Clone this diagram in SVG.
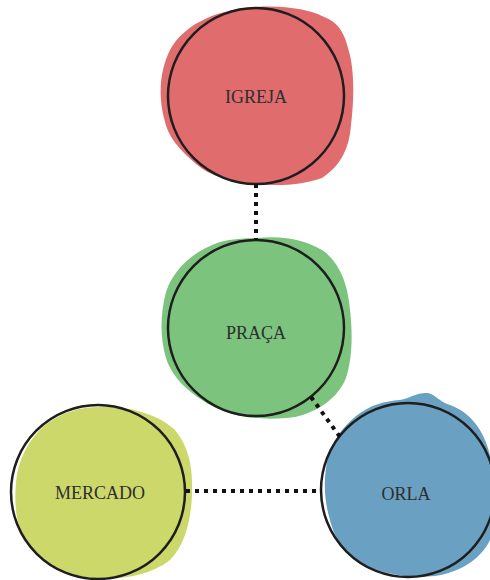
<svg xmlns="http://www.w3.org/2000/svg" width="490" height="580" viewBox="0 0 490 580">
<style>
.ring{fill:none;stroke:#1e1e1e;stroke-width:2.5}
.lbl{font-family:"Liberation Serif","DejaVu Serif",serif;font-size:18px;fill:#2e2e2e;text-anchor:middle}
.link{stroke:#111;stroke-width:4;stroke-dasharray:4 5;fill:none}
</style>
<rect width="490" height="580" fill="#ffffff"/>
<g id="igreja">
<path fill="#e06c6e" d="M256,7 C285,5 310,10 322,16 C338,22 344,32 348,48 C355,70 354,100 351,125 C349,150 340,166 322,178 C300,186 275,186 255,184 C230,182 210,176 196,164 C180,150 168,138 164,118 C158,95 160,70 170,50 C182,28 210,10 256,7 Z"/>
<circle class="ring" cx="256" cy="96" r="88"/>
<text class="lbl" x="256" y="103">IGREJA</text>
</g>
<g id="praca">
<path fill="#7cc47e" d="M256,238 C285,235 305,240 322,250 C340,262 348,285 350,310 C353,335 352,360 346,378 C338,398 318,412 295,417 C265,421 235,418 212,406 C190,394 172,378 166,358 C160,338 160,315 166,292 C174,268 195,250 220,242 C232,239 244,238 256,238 Z"/>
<circle class="ring" cx="256" cy="328" r="88"/>
<text class="lbl" x="256" y="339">PRAÇA</text>
</g>
<g id="mercado">
<path fill="#cdd86a" d="M100,407 C130,406 158,414 175,430 C190,448 193,470 192,495 C191,520 185,545 170,560 C150,576 120,580 95,578 C65,576 42,562 28,545 C16,528 14,505 16,482 C18,460 28,440 45,425 C62,412 80,407 100,407 Z"/>
<circle class="ring" cx="98" cy="492" r="87"/>
<text class="lbl" x="100" y="499">MERCADO</text>
</g>
<g id="orla">
<path fill="#6aa0c2" d="M400,400 C410,398 418,392 428,393 C436,395 440,402 450,405 C470,412 484,430 490,455 L490,540 C480,560 460,572 435,576 C410,578 385,575 365,565 C345,555 335,540 330,520 C324,500 323,478 328,458 C333,440 342,428 356,416 C370,405 385,401 400,400 Z"/>
<circle class="ring" cx="408" cy="490" r="87"/>
<text class="lbl" x="406" y="500">ORLA</text>
</g>
<g id="connectors">
<line class="link" x1="256" y1="184" x2="256" y2="240"/>
<line class="link" x1="311" y1="397" x2="340" y2="437"/>
<line class="link" x1="186" y1="491" x2="322" y2="491"/>
</g>
</svg>
